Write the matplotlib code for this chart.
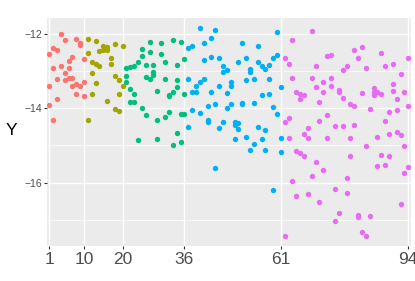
import matplotlib
matplotlib.use("Agg")
import matplotlib.pyplot as plt

plt.rcParams['font.family'] = ['Liberation Sans', 'DejaVu Sans']

# points, one list pair per colour group
x_g1 = [1, 1, 1, 2, 2, 2, 3, 3, 3, 4, 4, 5, 5, 5, 6, 6, 6, 7, 7, 7, 8, 8, 8, 9, 9, 9, 10, 10, 10]
y_g1 = [-12.54, -13.39, -13.91, -12.38, -12.90, -14.32, -12.42, -13.20, -13.74, -12.00, -12.85,
        -12.15, -13.04, -13.24, -12.72, -12.90, -13.19, -12.61, -13.19, -13.39, -12.13, -13.33,
        -13.62, -12.23, -12.29, -13.40, -12.68, -13.29, -13.67]

x_g2 = [11, 11, 11, 12, 12, 12, 13, 13, 13, 14, 14, 15, 15, 16, 16, 16, 17, 17, 18, 18, 18,
        19, 19, 19, 20, 20]
y_g2 = [-12.13, -12.51, -14.31, -12.74, -13.05, -13.61, -12.17, -12.80, -13.31, -12.46, -12.85,
        -12.31, -12.42, -12.34, -12.42, -13.79, -12.64, -12.81, -12.27, -13.13, -14.01,
        -13.24, -13.62, -14.07, -12.32, -13.39]

x_g3 = [21, 21, 21, 22, 22, 22, 23, 23, 23, 24, 24, 25, 25, 25, 26, 26, 26, 27, 27, 27,
        28, 28, 28, 29, 29, 29, 30, 30, 31, 31, 31, 32, 32, 32, 33, 33, 33, 34, 34, 34, 34,
        35, 35, 35, 36, 36, 36]
y_g3 = [-12.90, -13.13, -13.29, -12.88, -13.47, -13.83, -12.85, -13.60, -13.83, -12.74, -14.86,
        -12.40, -12.59, -13.99, -12.83, -13.15, -14.18, -12.20, -12.47, -13.22,
        -12.83, -13.02, -13.10, -13.53, -14.30, -14.82, -12.23, -12.54, -12.74, -13.20, -14.23,
        -13.64, -13.67, -14.10, -12.16, -13.55, -15.00, -12.83, -13.24, -13.42, -14.66,
        -12.22, -14.14, -14.91, -12.68, -13.60, -14.14]

x_g4 = [37, 37, 37, 38, 38, 38, 39, 39, 40, 40, 40, 41, 41, 41, 42, 42, 42, 43, 43, 43,
        44, 44, 44, 45, 45, 45, 46, 46, 46, 47, 47, 47, 48, 48, 48, 49, 49, 49, 50, 50, 50,
        51, 51, 51, 52, 52, 52, 53, 53, 53, 54, 54, 54, 55, 55, 55, 56, 56, 56, 57, 57, 57,
        58, 58, 58, 59, 59, 59, 60, 60, 60, 61, 61, 61]
y_g4 = [-12.36, -13.20, -14.50, -12.31, -13.56, -14.05, -13.39, -13.56, -11.84, -13.28, -14.12,
        -12.25, -12.70, -13.20, -13.94, -14.32, -14.36, -12.09, -12.61, -13.56,
        -11.89, -13.89, -15.60, -12.63, -13.39, -14.53, -12.85, -13.02, -14.37,
        -12.97, -13.58, -13.98, -13.28, -13.39, -13.89, -14.37, -14.44, -14.82,
        -12.75, -14.39, -14.55, -12.23, -13.85, -13.89, -12.63, -13.24, -14.77,
        -12.94, -13.01, -15.13, -13.22, -13.85, -14.95, -12.32, -12.75, -14.50,
        -12.86, -13.65, -14.82, -12.95, -14.57, -15.11, -12.83, -13.20, -13.60,
        -12.65, -13.96, -16.20, -11.93, -12.56, -14.14, -13.42, -14.79, -15.18]

x_g5 = [62, 62, 62, 63, 63, 63, 64, 64, 64, 65, 65, 65, 66, 66, 66, 67, 67, 67, 68, 68, 68,
        69, 69, 69, 70, 70, 70, 71, 71, 71, 72, 72, 72, 73, 73, 73, 74, 74, 74, 75, 75, 75,
        76, 76, 76, 77, 77, 77, 78, 78, 78, 79, 79, 79, 80, 80, 80, 81, 81, 81, 82, 82, 82,
        83, 83, 83, 84, 84, 85, 85, 85, 86, 86, 86, 87, 87, 87, 88, 88, 88, 89, 89, 89,
        90, 90, 90, 91, 91, 91, 92, 92, 92, 93, 93, 93, 94, 94, 94]
y_g5 = [-12.65, -14.36, -17.43, -12.81, -14.25, -14.79, -12.15, -13.19, -15.97,
        -13.55, -15.16, -16.35, -13.60, -13.76, -15.20, -13.65, -14.68, -15.29,
        -14.52, -14.80, -16.31, -11.91, -13.17, -15.83, -12.85, -13.42, -15.45,
        -13.82, -14.34, -16.53, -13.29, -13.56, -15.67, -12.59, -14.19, -14.80,
        -12.56, -13.19, -13.40, -14.48, -16.17, -17.03, -13.51, -13.56, -16.82,
        -12.97, -13.73, -14.48, -12.86, -15.87, -16.28, -13.89, -14.80, -15.29,
        -12.42, -13.94, -14.44, -12.63, -16.87, -16.92, -12.34, -13.58, -17.32,
        -12.90, -15.02, -17.43, -14.01, -16.91, -13.46, -13.55, -13.64,
        -13.55, -14.77, -15.56, -12.50, -13.62, -15.27, -12.85, -14.34, -15.52,
        -14.09, -14.68, -15.29, -12.79, -13.33, -13.53, -13.76, -14.05, -14.63,
        -13.08, -14.73, -16.57, -13.56, -15.02, -15.74, -12.65, -13.94, -15.58]

groups = [(x_g1, y_g1), (x_g2, y_g2), (x_g3, y_g3), (x_g4, y_g4), (x_g5, y_g5)]
colors = ['#F8766D', '#A3A500', '#00BF7D', '#00B0F6', '#E76BF3']

x_breaks = [1, 10, 20, 36, 61, 94]
y_breaks = [-12, -14, -16]
y_minor = [-13, -15, -17]

fig = plt.figure(figsize=(4.15, 2.81), dpi=100)
ax = fig.add_axes([0.1125, 0.1246, 0.8775, 0.8104])
ax.set_facecolor('#EBEBEB')
for s in ax.spines.values():
    s.set_visible(False)

for (xs, ys), c in zip(groups, colors):
    ax.scatter(xs, ys, s=15, color=c, linewidths=0, zorder=3)

ax.set_xlim(0.33, 94.67)
ax.set_ylim(-17.71, -11.57)
ax.set_xticks(x_breaks)
ax.set_xticklabels([str(v) for v in x_breaks])
ax.set_yticks(y_breaks)
ax.set_yticklabels(['\u2212' + str(abs(v)) for v in y_breaks])
ax.set_yticks(y_minor, minor=True)

ax.grid(True, which='major', color='white', linewidth=1.0, zorder=0)
ax.grid(True, which='minor', axis='y', color='white', linewidth=0.5, zorder=0)
ax.set_axisbelow(True)

ax.tick_params(axis='x', which='major', labelsize=12.5, labelcolor='#4D4D4D', color='#333333',
               length=2.5, width=0.8, pad=2)
ax.tick_params(axis='y', which='major', labelsize=7.5, labelcolor='#4D4D4D', color='#333333',
               length=2.5, width=0.8, pad=1)
ax.tick_params(axis='y', which='minor', length=0)

fig.text(11 / 415, 1 - 131 / 281, 'Y', fontsize=12.5, ha='center', va='center', color='black')

fig.savefig('out.png', dpi=100)
